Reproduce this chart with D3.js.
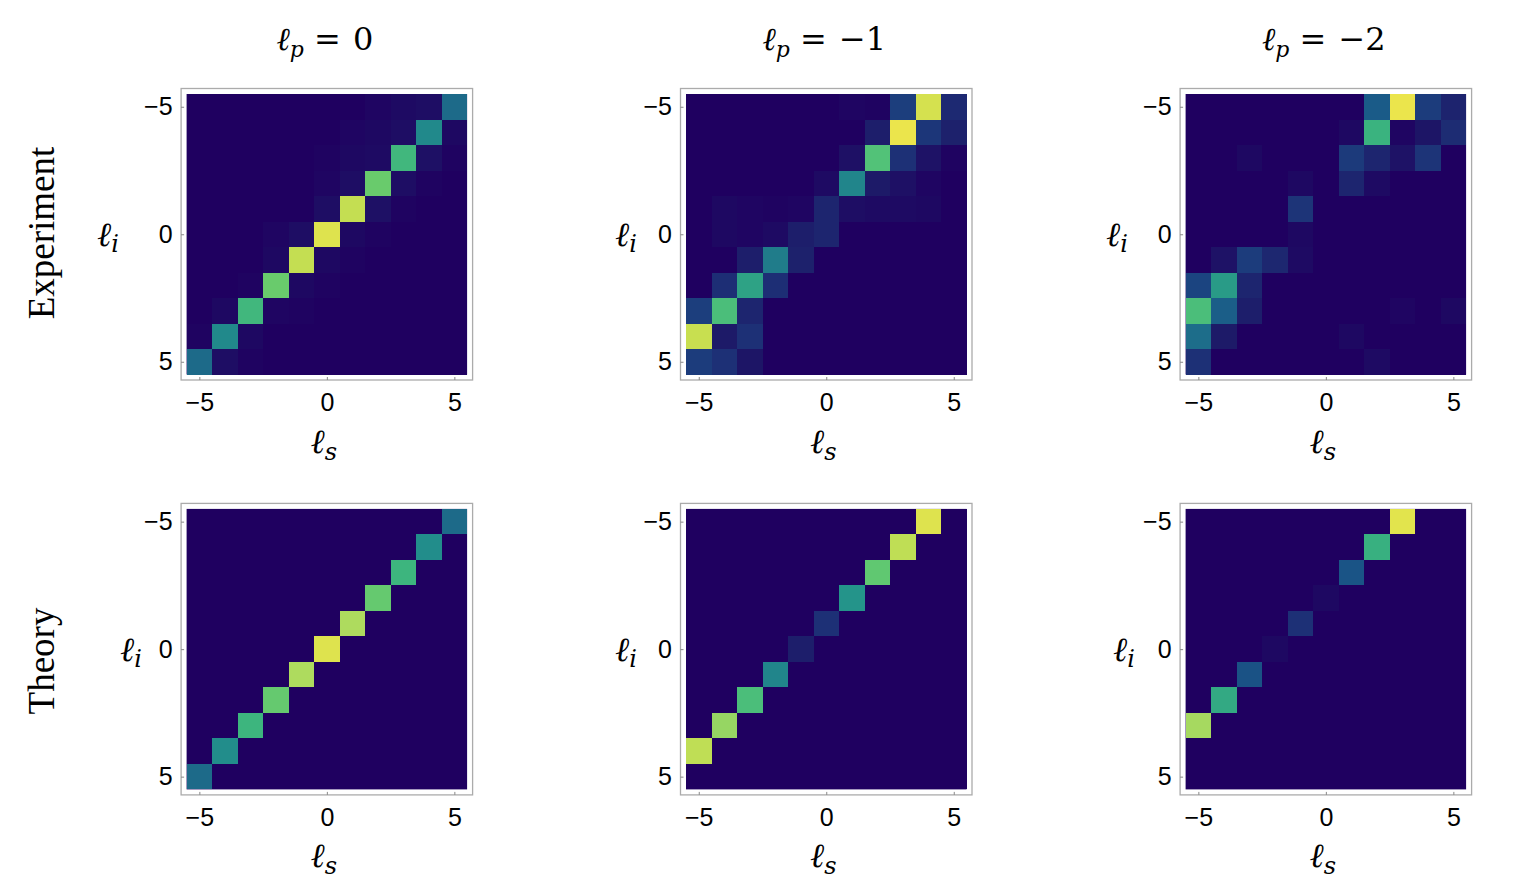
<!DOCTYPE html>
<html><head><meta charset="utf-8">
<script src="https://cdn.jsdelivr.net/npm/d3@7"></script>
<style>body{margin:0;background:#fff;} svg{display:block}</style>
</head><body>
<svg id="chart" width="1518" height="894"></svg>
<script>
// ---------------- data ----------------
const lsValues = [-5,-4,-3,-2,-1,0,1,2,3,4,5];   // columns (ℓs)
const liValues = [-5,-4,-3,-2,-1,0,1,2,3,4,5];   // rows (ℓi), top to bottom
const tickValues = [-5,0,5];
const lpLabels = ["0","\u22121","\u22122"];
const rowLabels = ["Experiment","Theory"];

// rows: ℓi = -5 ... 5 ; columns: ℓs = -5 ... 5 (normalized probability)
const expLp0 = [
 [0,0,0,0,0,0,0,0.02,0.04,0.05,0.45],
 [0,0,0,0,0,0,0.02,0.03,0.05,0.53,0.03],
 [0,0,0,0,0,0.01,0.03,0.04,0.67,0.06,0.01],
 [0,0,0,0,0,0.02,0.05,0.77,0.05,0.01,0],
 [0,0,0,0,0,0.05,0.91,0.06,0.01,0,0],
 [0,0,0,0.02,0.05,0.97,0.03,0.01,0,0,0],
 [0,0,0,0.03,0.91,0.03,0.01,0,0,0,0],
 [0,0,0.01,0.77,0.03,0.01,0,0,0,0,0],
 [0,0.03,0.67,0.02,0.01,0,0,0,0,0,0],
 [0.01,0.53,0.03,0,0,0,0,0,0,0,0],
 [0.45,0.05,0.01,0,0,0,0,0,0,0,0]
];
const expLp1 = [
 [0,0,0,0,0,0,0.02,0.01,0.27,0.95,0.17],
 [0,0,0,0,0,0,0,0.12,1.0,0.23,0.13],
 [0,0,0,0,0,0,0.06,0.72,0.2,0.07,0.01],
 [0,0,0,0,0,0.04,0.52,0.1,0.06,0.02,0],
 [0,0.03,0.02,0.01,0.02,0.15,0.05,0.04,0.04,0.03,0],
 [0,0.03,0.02,0.04,0.12,0.15,0,0,0,0,0],
 [0,0,0.12,0.5,0.13,0,0,0,0,0,0],
 [0,0.19,0.6,0.19,0,0,0,0,0,0,0],
 [0.27,0.7,0.15,0,0,0,0,0,0,0,0],
 [0.92,0.1,0.2,0,0,0,0,0,0,0,0],
 [0.26,0.2,0.08,0,0,0,0,0,0,0,0]
];
const expLp2 = [
 [0,0,0,0,0,0,0,0.4,1.0,0.26,0.14],
 [0,0,0,0,0,0,0.03,0.65,0.02,0.08,0.18],
 [0,0,0.03,0,0,0,0.25,0.15,0.07,0.22,0],
 [0,0,0,0,0.03,0,0.15,0.04,0,0,0],
 [0,0,0,0,0.22,0,0,0,0,0,0],
 [0,0,0,0,0.03,0,0,0,0,0,0],
 [0,0.07,0.26,0.16,0.04,0,0,0,0,0,0],
 [0.3,0.58,0.15,0,0,0,0,0,0,0,0],
 [0.7,0.41,0.12,0,0,0,0,0,0.02,0,0.03],
 [0.46,0.1,0,0,0,0,0.03,0,0,0,0],
 [0.2,0,0,0,0,0,0,0.04,0,0,0]
];
const thrLp0 = [
 [0,0,0,0,0,0,0,0,0,0,0.45],
 [0,0,0,0,0,0,0,0,0,0.54,0],
 [0,0,0,0,0,0,0,0,0.66,0,0],
 [0,0,0,0,0,0,0,0.76,0,0,0],
 [0,0,0,0,0,0,0.86,0,0,0,0],
 [0,0,0,0,0,0.97,0,0,0,0,0],
 [0,0,0,0,0.86,0,0,0,0,0,0],
 [0,0,0,0.76,0,0,0,0,0,0,0],
 [0,0,0.66,0,0,0,0,0,0,0,0],
 [0,0.54,0,0,0,0,0,0,0,0,0],
 [0.45,0,0,0,0,0,0,0,0,0,0]
];
const thrLp1 = [
 [0,0,0,0,0,0,0,0,0,0.97,0],
 [0,0,0,0,0,0,0,0,0.9,0,0],
 [0,0,0,0,0,0,0,0.75,0,0,0],
 [0,0,0,0,0,0,0.56,0,0,0,0],
 [0,0,0,0,0,0.2,0,0,0,0,0],
 [0,0,0,0,0.12,0,0,0,0,0,0],
 [0,0,0,0.52,0,0,0,0,0,0,0],
 [0,0,0.7,0,0,0,0,0,0,0,0],
 [0,0.83,0,0,0,0,0,0,0,0,0],
 [0.9,0,0,0,0,0,0,0,0,0,0],
 [0,0,0,0,0,0,0,0,0,0,0]
];
const thrLp2 = [
 [0,0,0,0,0,0,0,0,0.98,0,0],
 [0,0,0,0,0,0,0,0.64,0,0,0],
 [0,0,0,0,0,0,0.37,0,0,0,0],
 [0,0,0,0,0,0.03,0,0,0,0,0],
 [0,0,0,0,0.2,0,0,0,0,0,0],
 [0,0,0,0.03,0,0,0,0,0,0,0],
 [0,0,0.36,0,0,0,0,0,0,0,0],
 [0,0.62,0,0,0,0,0,0,0,0,0],
 [0.85,0,0,0,0,0,0,0,0,0,0],
 [0,0,0,0,0,0,0,0,0,0,0],
 [0,0,0,0,0,0,0,0,0,0,0]
];
const panelData = [[expLp0, expLp1, expLp2],[thrLp0, thrLp1, thrLp2]];

// ---------------- layout ----------------
const svg = d3.select("#chart");
const panelLeft = [186.6, 686, 1185.6];
const panelTop = [94, 508.9];
const size = 280.5;
const pad = 5.5;
const liLabelX = [[108, 626, 1117],[131, 626, 1124]];
const rowLabelY = [233, 661];

const color = d3.scaleLinear()
  .domain([0, 0.10, 0.20, 0.30, 0.40, 0.47, 0.55, 0.65, 0.72, 0.78, 0.86, 0.92, 1.0])
  .range(["#1f0060","#1d1a68","#1d3076","#1b4480","#1a5b88","#1e708a","#22918b","#3ab37f","#52c278","#6ecd6a","#aedb5e","#c8df50","#ebe54c"])
  .interpolate(d3.interpolateRgb)
  .clamp(true);

const serif = "'Liberation Serif','Times New Roman',serif";
const mathSerif = "'DejaVu Serif',serif";
const sans = "'Liberation Sans',Arial,sans-serif";

// titles
lpLabels.forEach((lab, c) => {
  const cx = panelLeft[c] + size/2 - 2;
  const t = svg.append("text").attr("x", cx).attr("y", 50)
    .attr("text-anchor","middle").attr("font-family", mathSerif).attr("font-size", 32).attr("fill","#000");
  t.append("tspan").attr("font-style","italic").text("\u2113");
  t.append("tspan").attr("font-style","italic").attr("font-size",22).attr("dy",7).text("p");
  t.append("tspan").attr("dy",-7).text(" = ");
  t.append("tspan").attr("dx",2).text(lab);
});

// row labels
rowLabels.forEach((lab, r) => {
  svg.append("text")
    .attr("transform", `translate(54,${rowLabelY[r]}) rotate(-90)`)
    .attr("text-anchor","middle").attr("font-family", serif).attr("font-size", 37)
    .attr("fill","#000").text(lab);
});

panelData.forEach((rowArr, r) => {
  rowArr.forEach((mat, c) => {
    const left = panelLeft[c], top = panelTop[r];
    const x = d3.scaleLinear().domain([-5.5, 5.5]).range([left, left + size]);
    const y = d3.scaleLinear().domain([-5.5, 5.5]).range([top, top + size]);
    const g = svg.append("g");

    // frame
    g.append("rect").attr("x", left - pad).attr("y", top - pad)
      .attr("width", size + 2*pad).attr("height", size + 2*pad)
      .attr("fill","#fff").attr("stroke","#ababab").attr("stroke-width",1.3);

    // background
    g.append("rect").attr("x", x(-5.5)).attr("y", y(-5.5))
      .attr("width", x(5.5)-x(-5.5)).attr("height", y(5.5)-y(-5.5))
      .attr("fill", color(0));

    const cells = [];
    liValues.forEach((li, i) => lsValues.forEach((ls, j) => cells.push({li, ls, v: mat[i][j]})));
    g.selectAll("rect.cell").data(cells).join("rect").attr("class","cell")
      .attr("x", d => x(d.ls - 0.5)).attr("y", d => y(d.li - 0.5))
      .attr("width", d => x(d.ls + 0.5) - x(d.ls - 0.5))
      .attr("height", d => y(d.li + 0.5) - y(d.li - 0.5))
      .attr("fill", d => color(d.v))
      .attr("shape-rendering","crispEdges");

    // axes
    const ax = g.append("g").attr("transform", `translate(${left - pad},0)`)
      .call(d3.axisLeft(y).tickValues(tickValues).tickSize(-3).tickPadding(8.5));
    const bx = g.append("g").attr("transform", `translate(0,${top + size + pad})`)
      .call(d3.axisBottom(x).tickValues(tickValues).tickSize(-3).tickPadding(13));
    [ax, bx].forEach(a => {
      a.select(".domain").remove();
      a.attr("font-family", sans).attr("font-size", 25);
      a.selectAll(".tick line").attr("stroke","#888");
      a.selectAll(".tick text").attr("fill","#000");
    });

    // ℓs label
    const ts = svg.append("text").attr("x", left + size/2 - 3).attr("y", top + size + 78)
      .attr("text-anchor","middle").attr("font-family", mathSerif).attr("font-size", 34).attr("fill","#000");
    ts.append("tspan").attr("font-style","italic").text("\u2113");
    ts.append("tspan").attr("font-style","italic").attr("font-size",24).attr("dy",7).text("s");

    // ℓi label
    const ti = svg.append("text").attr("x", liLabelX[r][c]).attr("y", y(0) + 12)
      .attr("text-anchor","middle").attr("font-family", mathSerif).attr("font-size", 34).attr("fill","#000");
    ti.append("tspan").attr("font-style","italic").text("\u2113");
    ti.append("tspan").attr("font-style","italic").attr("font-size",24).attr("dy",6).text("i");
  });
});
</script>
</body></html>
